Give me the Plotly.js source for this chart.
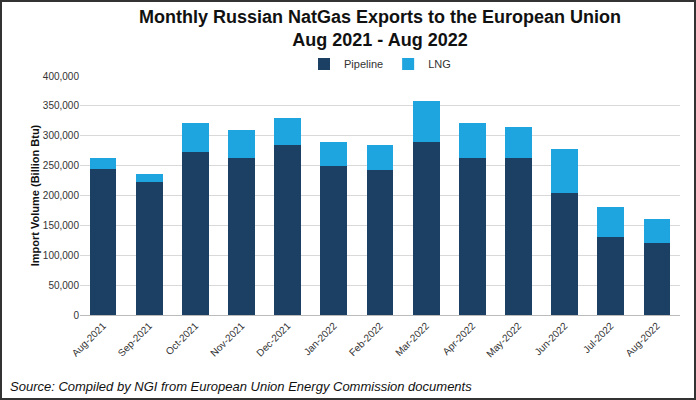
<!DOCTYPE html>
<html>
<head>
<script src="https://cdn.plot.ly/plotly-3.0.1.min.js"></script>
<style>
  html, body { margin: 0; padding: 0; background: #fff; }
  #chart { width: 696px; height: 400px; box-sizing: border-box; border: 2px solid #333; }
</style>
</head>
<body>
<div id="chart"></div>
<script>
const months = ['Aug-2021', 'Sep-2021', 'Oct-2021', 'Nov-2021', 'Dec-2021', 'Jan-2022', 'Feb-2022',
  'Mar-2022', 'Apr-2022', 'May-2022', 'Jun-2022', 'Jul-2022', 'Aug-2022'];
const pipeline = [245000, 223000, 273000, 263000, 285000, 250000, 243000, 290000, 263000, 263000, 204000, 130000, 120000];
const lng = [18000, 13000, 49000, 47000, 44000, 39000, 41000, 68000, 59000, 51000, 73000, 50000, 40000];

const data = [
  { x: months, y: pipeline, type: 'bar', name: 'Pipeline', marker: { color: '#1c3f64' } },
  { x: months, y: lng, type: 'bar', name: 'LNG', marker: { color: '#1ea4de' } }
];

const layout = {
  width: 692, height: 396,
  barmode: 'stack',
  bargap: 0.42,
  paper_bgcolor: '#fff', plot_bgcolor: '#fff',
  font: { family: 'Liberation Sans, Arial, sans-serif', color: '#333', size: 11 },
  margin: { l: 78, r: 14, t: 74, b: 83 },
  legend: { orientation: 'h', traceorder: 'normal', x: 0.5, xanchor: 'center', y: 0.99, yanchor: 'bottom',
    font: { size: 11 }, itemwidth: 30 },
  xaxis: { tickangle: -45, showline: true, linecolor: '#bbb', tickfont: { size: 10 } },
  yaxis: {
    range: [0, 400000], dtick: 50000, tickformat: ',', gridcolor: '#d9d9d9',
    tickfont: { size: 10 }, zeroline: false,
    title: { text: '<b>Import Volume (Billion Btu)</b>', font: { size: 11, color: '#111' } }
  },
  annotations: [
    {
      text: '<b>Monthly Russian NatGas Exports to the European Union<br>Aug 2021 - Aug 2022</b>',
      xref: 'paper', yref: 'paper', x: 0.5, y: 1.295, xanchor: 'center', yanchor: 'top',
      showarrow: false, font: { size: 18, color: '#111' }
    },
    {
      text: '<i>Source: Compiled by NGI from European Union Energy Commission documents</i>',
      xref: 'paper', yref: 'paper', x: -0.12, y: -0.30, xanchor: 'left', yanchor: 'middle',
      showarrow: false, font: { size: 13, color: '#111' }
    }
  ]
};

Plotly.newPlot('chart', data, layout, { displayModeBar: false });
</script>
</body>
</html>
